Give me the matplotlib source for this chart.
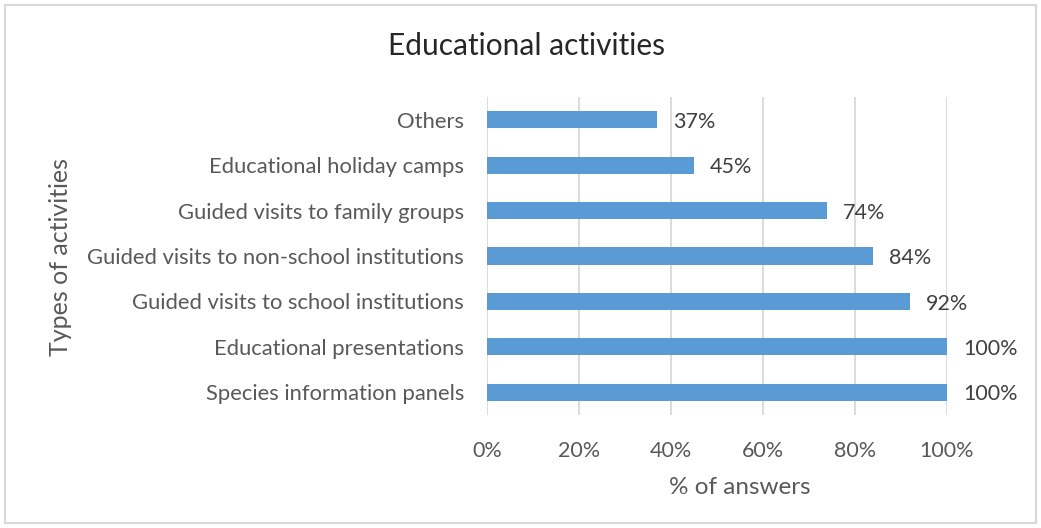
import matplotlib
matplotlib.use("Agg")
import matplotlib.pyplot as plt
from matplotlib.patches import Rectangle

plt.rcParams['font.family'] = ['Lato', 'DejaVu Sans']

categories = [
    "Species information panels",
    "Educational presentations",
    "Guided visits to school institutions",
    "Guided visits to non-school institutions",
    "Guided visits to family groups",
    "Educational holiday camps",
    "Others",
]
values = [100, 100, 92, 84, 74, 45, 37]
xticks = [0, 20, 40, 60, 80, 100]

text_color = "#595959"
bar_color = "#5B9BD5"
grid_color = "#D9D9D9"

fig = plt.figure(figsize=(10.41, 5.28), dpi=100)
fig.patches.append(Rectangle((5 / 1041, 5 / 528), 1031 / 1041, 518 / 528,
                             transform=fig.transFigure, fill=False,
                             edgecolor="#D9D9D9", linewidth=1.5))

ax = fig.add_axes([487 / 1041, 1 - 415 / 528, 460 / 1041, 318 / 528])
y = range(len(categories))
ax.barh(y, values, height=0.375, color=bar_color, zorder=3)

ax.set_xlim(0, 100)
ax.set_ylim(-0.5, len(categories) - 0.5)
ax.set_xticks(xticks)
ax.set_xticklabels([f"{t}%" for t in xticks])
ax.set_yticks(list(y))
ax.set_yticklabels(categories)

ax.grid(axis="x", color=grid_color, linewidth=1.3, zorder=0)
for s in ax.spines.values():
    s.set_visible(False)
ax.tick_params(axis="x", length=0, labelsize=15.5, labelcolor=text_color, pad=19)
ax.tick_params(axis="y", length=0, labelsize=15.8, labelcolor=text_color, pad=16.5)

for yi, v in zip(y, values):
    ax.annotate(f"{v}%", (v, yi), xytext=(11.5, -1.5), textcoords="offset points",
                va="center", ha="left", fontsize=15.5, color="#404040")

fig.text(740 / 1041, 1 - 487 / 528, "% of answers", ha="center", va="center",
         fontsize=17.5, color=text_color)
fig.text(60 / 1041, 1 - 257 / 528, "Types of activities", rotation=90,
         ha="center", va="center", fontsize=18, color=text_color)
fig.text(527 / 1041, 1 - 46 / 528, "Educational activities",
         ha="center", va="center", fontsize=21.5, color="#262626")

fig.savefig("out.png", dpi=100)
